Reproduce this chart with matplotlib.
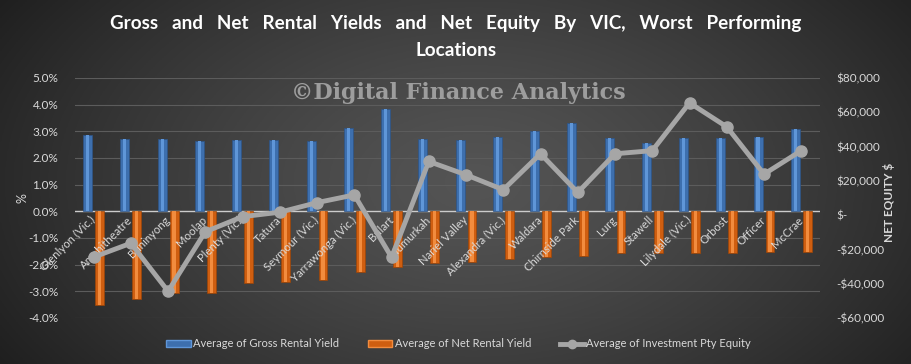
import numpy as np
import matplotlib.pyplot as plt
from matplotlib.ticker import FuncFormatter, MultipleLocator
from matplotlib.lines import Line2D
from matplotlib.patches import Patch

## Data
locations = ['Glenlyon (Vic.)', 'Amphitheatre', 'Buninyong', 'Moolap', 'Plenty (Vic.)',
             'Tatura', 'Seymour (Vic.)', 'Yarrawonga (Vic.)', 'Bulart', 'Numurkah',
             'Nariel Valley', 'Alexandra (Vic.)', 'Waldara', 'Chirnside Park', 'Lurg',
             'Stawell', 'Lilydale (Vic.)', 'Orbost', 'Officer', 'McCrae']
gross_yield = [2.88, 2.70, 2.73, 2.62, 2.66, 2.66, 2.62, 3.13, 3.82, 2.73,
               2.66, 2.80, 3.03, 3.32, 2.76, 2.55, 2.76, 2.76, 2.80, 3.07]
net_yield = [-3.51, -3.30, -3.08, -3.05, -2.68, -2.65, -2.56, -2.27, -2.07, -1.92,
             -1.91, -1.80, -1.72, -1.68, -1.57, -1.57, -1.55, -1.55, -1.53, -1.53]
net_equity = [-24500, -16400, -44400, -9700, -900, 1700, 7300, 11800, -24600, 31300,
              23500, 14800, 35800, 13200, 35800, 37600, 65500, 51500, 23900, 37600]

FONT = 'Lato'
TXT = '#d9d9d9'
BLUE, BLUE_HI = '#3d6fae', '#5f96d8'
ORANGE, ORANGE_HI = '#cf5e10', '#f28c3e'
GREY = '#a6a6a6'

fig = plt.figure(figsize=(9.12, 3.64), dpi=100)

# background: dark radial gradient
bg = fig.add_axes([0, 0, 1, 1], zorder=-10)
yy, xx = np.mgrid[0:1:200j, 0:1:400j]
r = np.sqrt(((xx - 0.52) / 0.62) ** 2 + ((yy - 0.5) / 0.95) ** 2)
r = np.clip(r, 0, 1)
shade = 0.33 - 0.21 * r ** 1.3
bg.imshow(np.dstack([shade] * 3), extent=[0, 1, 0, 1], aspect='auto', origin='lower')
bg.axis('off')

ax = fig.add_axes([0.0822, 0.1264, 0.8168, 0.6594])
ax.set_facecolor('none')
x = np.arange(len(locations))

w = 0.24
ax.bar(x - 0.16, gross_yield, w, color=BLUE, edgecolor='#2d5487', linewidth=0.5, zorder=3)
ax.bar(x - 0.16, gross_yield, w * 0.35, color=BLUE_HI, linewidth=0, zorder=3)
ax.bar(x + 0.16, net_yield, w, color=ORANGE, edgecolor='#9c4508', linewidth=0.5, zorder=3)
ax.bar(x + 0.16, net_yield, w * 0.35, color=ORANGE_HI, linewidth=0, zorder=3)

ax.set_xlim(-0.5, len(locations) - 0.5)
ax.set_ylim(-4, 5)
ax.yaxis.set_major_locator(MultipleLocator(1))
ax.yaxis.set_major_formatter(FuncFormatter(lambda v, p: f'{v:.1f}%'))
ax.grid(axis='y', color='#5c5c5c', linewidth=0.8, zorder=0)
ax.axhline(0, color='#cccccc', linewidth=1.0, zorder=2)
for s in ax.spines.values():
    s.set_visible(False)
ax.spines['bottom'].set_position(('data', 0))
ax.xaxis.set_zorder(4)   # labels sit on top of the bars like in Excel
ax.set_xticks(x)
ax.set_xticklabels(locations, rotation=45, ha='right', va='center',
                   rotation_mode='anchor', fontsize=8.2, color=TXT, family=FONT)
ax.tick_params(axis='x', length=0, pad=5)
ax.tick_params(axis='y', length=0, pad=12, labelsize=8.5, labelcolor=TXT)
for t in ax.get_yticklabels():
    t.set_family(FONT)
ax.set_ylabel('%', color=TXT, fontsize=9, family=FONT)
ax.yaxis.set_label_coords(-0.063, 0.5)

# equity line on right axis
ax2 = ax.twinx()
ax2.plot(x, net_equity, color=GREY, linewidth=3.5, marker='o', markersize=8, zorder=5)
ax2.set_ylim(-60000, 80000)
ax2.yaxis.set_major_locator(MultipleLocator(20000))

def money(v, p):
    if v == 0:
        return '$-'
    return ('-' if v < 0 else '') + '${:,.0f}'.format(abs(v))

ax2.yaxis.set_major_formatter(FuncFormatter(money))
ax2.tick_params(axis='y', length=0, pad=12, labelsize=8.5, labelcolor=TXT)
for t in ax2.get_yticklabels():
    t.set_family(FONT)
for s in ax2.spines.values():
    s.set_visible(False)
ax2.set_ylabel('NET EQUITY $', color=TXT, fontsize=8.5, fontweight='bold', family=FONT)
ax2.yaxis.set_label_coords(1.085, 0.48)

# title and watermark
fig.text(0.5, 0.935,
         'Gross   and   Net   Rental   Yields   and   Net   Equity   By   VIC,   Worst   Performing',
         ha='center', va='center', color='white', fontsize=13.6, fontweight='bold', family=FONT)
fig.text(0.5, 0.862, 'Locations', ha='center', va='center', color='white',
         fontsize=13.6, fontweight='bold', family=FONT)
fig.text(0.502, 0.745, '\u00a9Digital Finance Analytics', ha='center', va='center',
         color='#adadad', alpha=0.85, fontsize=16, fontweight='bold', family='DejaVu Serif')

# legend
handles = [Patch(facecolor=BLUE, edgecolor=BLUE_HI),
           Patch(facecolor=ORANGE, edgecolor=ORANGE_HI),
           Line2D([0], [0], color=GREY, linewidth=3.5, marker='o', markersize=6)]
labels = ['Average of Gross Rental Yield', 'Average of Net Rental Yield',
          'Average of Investment Pty Equity']
leg = fig.legend(handles, labels, loc='center', bbox_to_anchor=(0.503, 0.055), ncol=3,
                 frameon=False, handlelength=2.2, handleheight=0.6,
                 handletextpad=0.2, columnspacing=2.6, prop={'family': FONT, 'size': 8})
for t in leg.get_texts():
    t.set_color(TXT)

fig.savefig('out.png', dpi=100)
